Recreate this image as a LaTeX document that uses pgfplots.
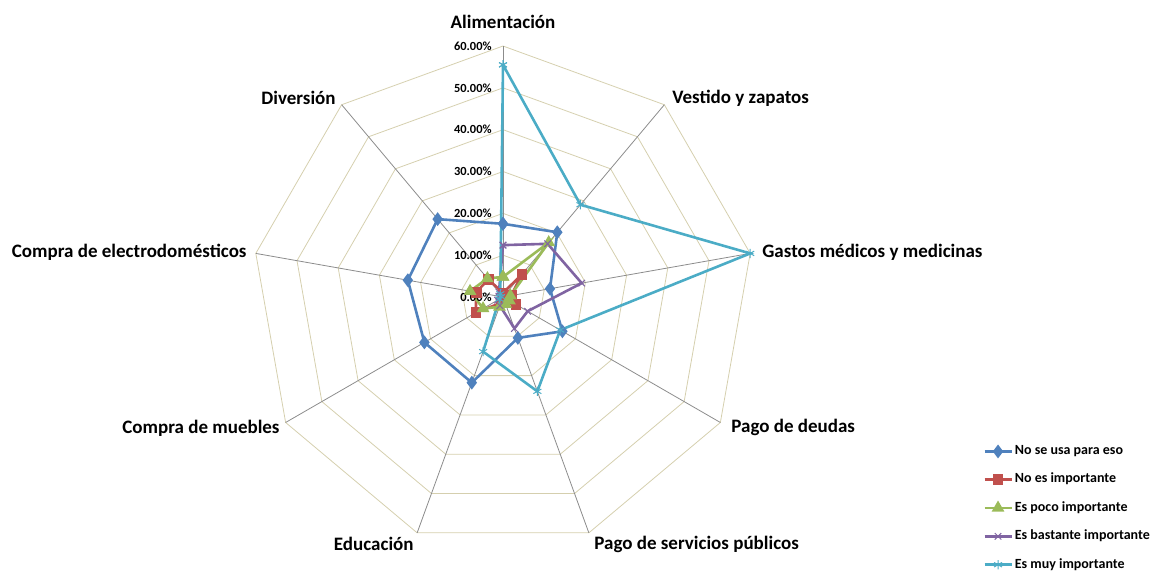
\documentclass[border=0pt]{standalone}
\usepackage{fontspec}
\setmainfont{Carlito}
\usepackage{pgfplots}
\usepackage{pgfplotstable}
\pgfplotsset{compat=1.18}
\definecolor{cBlue}{HTML}{4F81BD}
\definecolor{cRed}{HTML}{C0504D}
\definecolor{cGreen}{HTML}{9BBB59}
\definecolor{cPurple}{HTML}{8064A2}
\definecolor{cCyan}{HTML}{4BACC6}
\definecolor{gridtan}{HTML}{D5CFAE}
\definecolor{spoke}{HTML}{8C8C8C}
\pgfplotstableread{
angle blue red green purple cyan
90   17.5 1.0 4.8 12.4 55.5
50   20.2 7.0 17.0 16.6 28.8
10   11.4 2.0 1.8 19.1 60.0
-30  16.4 3.6 1.8 6.8 15.8
-70  10.4 1.5 1.8 8.0 24.0
-110 21.8 1.5 2.5 2.2 13.9
-150 21.7 7.5 5.5 1.5 1.0
-190 23.1 6.5 8.0 1.0 0.5
-230 24.3 5.5 5.8 1.5 1.0
-270 17.5 1.0 4.8 12.4 55.5
}\data
\begin{document}
\begin{tikzpicture}
\begin{axis}[
  hide axis, scale only axis,
  width=576.5pt, height=286.5pt,
  xmin=-120.24, xmax=155.38, ymin=-65.98, ymax=71.00,
  clip=false,
  legend cell align=left,
  legend image code/.code={\draw[mark repeat=2,mark phase=2] plot coordinates {(0pt,0pt) (6.75pt,0pt) (13.5pt,0pt)};},
  legend style={at={(axis cs:114.7,-34.9)}, anchor=north west, draw=none, fill=none,
    font=\bfseries\fontsize{7}{8.4}\selectfont, row sep=5.8pt, inner sep=0pt,
    nodes={inner sep=1pt}},
]
% grid polygons
\pgfplotsinvokeforeach{10,20,30,40,50,60}{
  \addplot[forget plot, gridtan, line width=0.4pt, data cs=polar] coordinates {
    (90,#1) (50,#1) (10,#1) (-30,#1) (-70,#1) (-110,#1) (-150,#1) (-190,#1) (-230,#1) (-270,#1)};
}
% spokes
\pgfplotsinvokeforeach{90,50,10,-30,-70,-110,-150,-190,-230}{
  \addplot[forget plot, spoke, line width=0.4pt, data cs=polar] coordinates {(#1,0) (#1,60)};
}
\addplot[data cs=polar, cBlue, line width=1.3pt, mark=diamond*, mark size=2.4pt, mark options={solid}] table[x=angle,y=blue]{\data};
\addlegendentry{No se usa para eso}
\addplot[data cs=polar, cRed, line width=1.3pt, mark=square*, mark size=2pt] table[x=angle,y=red]{\data};
\addlegendentry{No es importante}
\addplot[data cs=polar, cGreen, line width=1.3pt, mark=triangle*, mark size=2.4pt] table[x=angle,y=green]{\data};
\addlegendentry{Es poco importante}
\addplot[data cs=polar, cPurple, line width=1.3pt, mark=x, mark size=2.3pt, mark options={line width=0.5pt}] table[x=angle,y=purple]{\data};
\addlegendentry{Es bastante importante}
\addplot[data cs=polar, cCyan, line width=1.3pt, mark=asterisk, mark size=2.3pt, mark options={line width=0.5pt}] table[x=angle,y=cyan]{\data};
\addlegendentry{Es muy importante}
% tick labels
\begin{scope}[every node/.style={anchor=east, inner sep=0pt, font=\bfseries\fontsize{6.2}{7}\selectfont}]
\node at (axis cs:-2.63,0) {0.00\%};
\node at (axis cs:-2.63,10) {10.00\%};
\node at (axis cs:-2.63,20) {20.00\%};
\node at (axis cs:-2.63,30) {30.00\%};
\node at (axis cs:-2.63,40) {40.00\%};
\node at (axis cs:-2.63,50) {50.00\%};
\node at (axis cs:-2.63,60) {60.00\%};
\end{scope}
% category labels
\begin{scope}[every node/.style={inner sep=0pt, font=\bfseries\fontsize{9.5}{11}\selectfont}]
\node[anchor=center] at (axis cs:0,65.74) {Alimentación};
\node[anchor=west] at (axis cs:40.4,47.57) {Vestido y zapatos};
\node[anchor=west] at (axis cs:61.91,10.76) {Gastos médicos y medicinas};
\node[anchor=west] at (axis cs:54.5,-31.3) {Pago de deudas};
\node[anchor=west] at (axis cs:21.75,-59.04) {Pago de servicios públicos};
\node[anchor=east] at (axis cs:-21.28,-59.04) {Educación};
\node[anchor=east] at (axis cs:-53.31,-31.3) {Compra de muebles};
\node[anchor=east] at (axis cs:-61.2,10.76) {Compra de electrodomésticos};
\node[anchor=east] at (axis cs:-39.92,47.57) {Diversión};
\end{scope}
\end{axis}
\pgfresetboundingbox
\path (current axis.south west) rectangle (current axis.north east);
\end{tikzpicture}
\end{document}
